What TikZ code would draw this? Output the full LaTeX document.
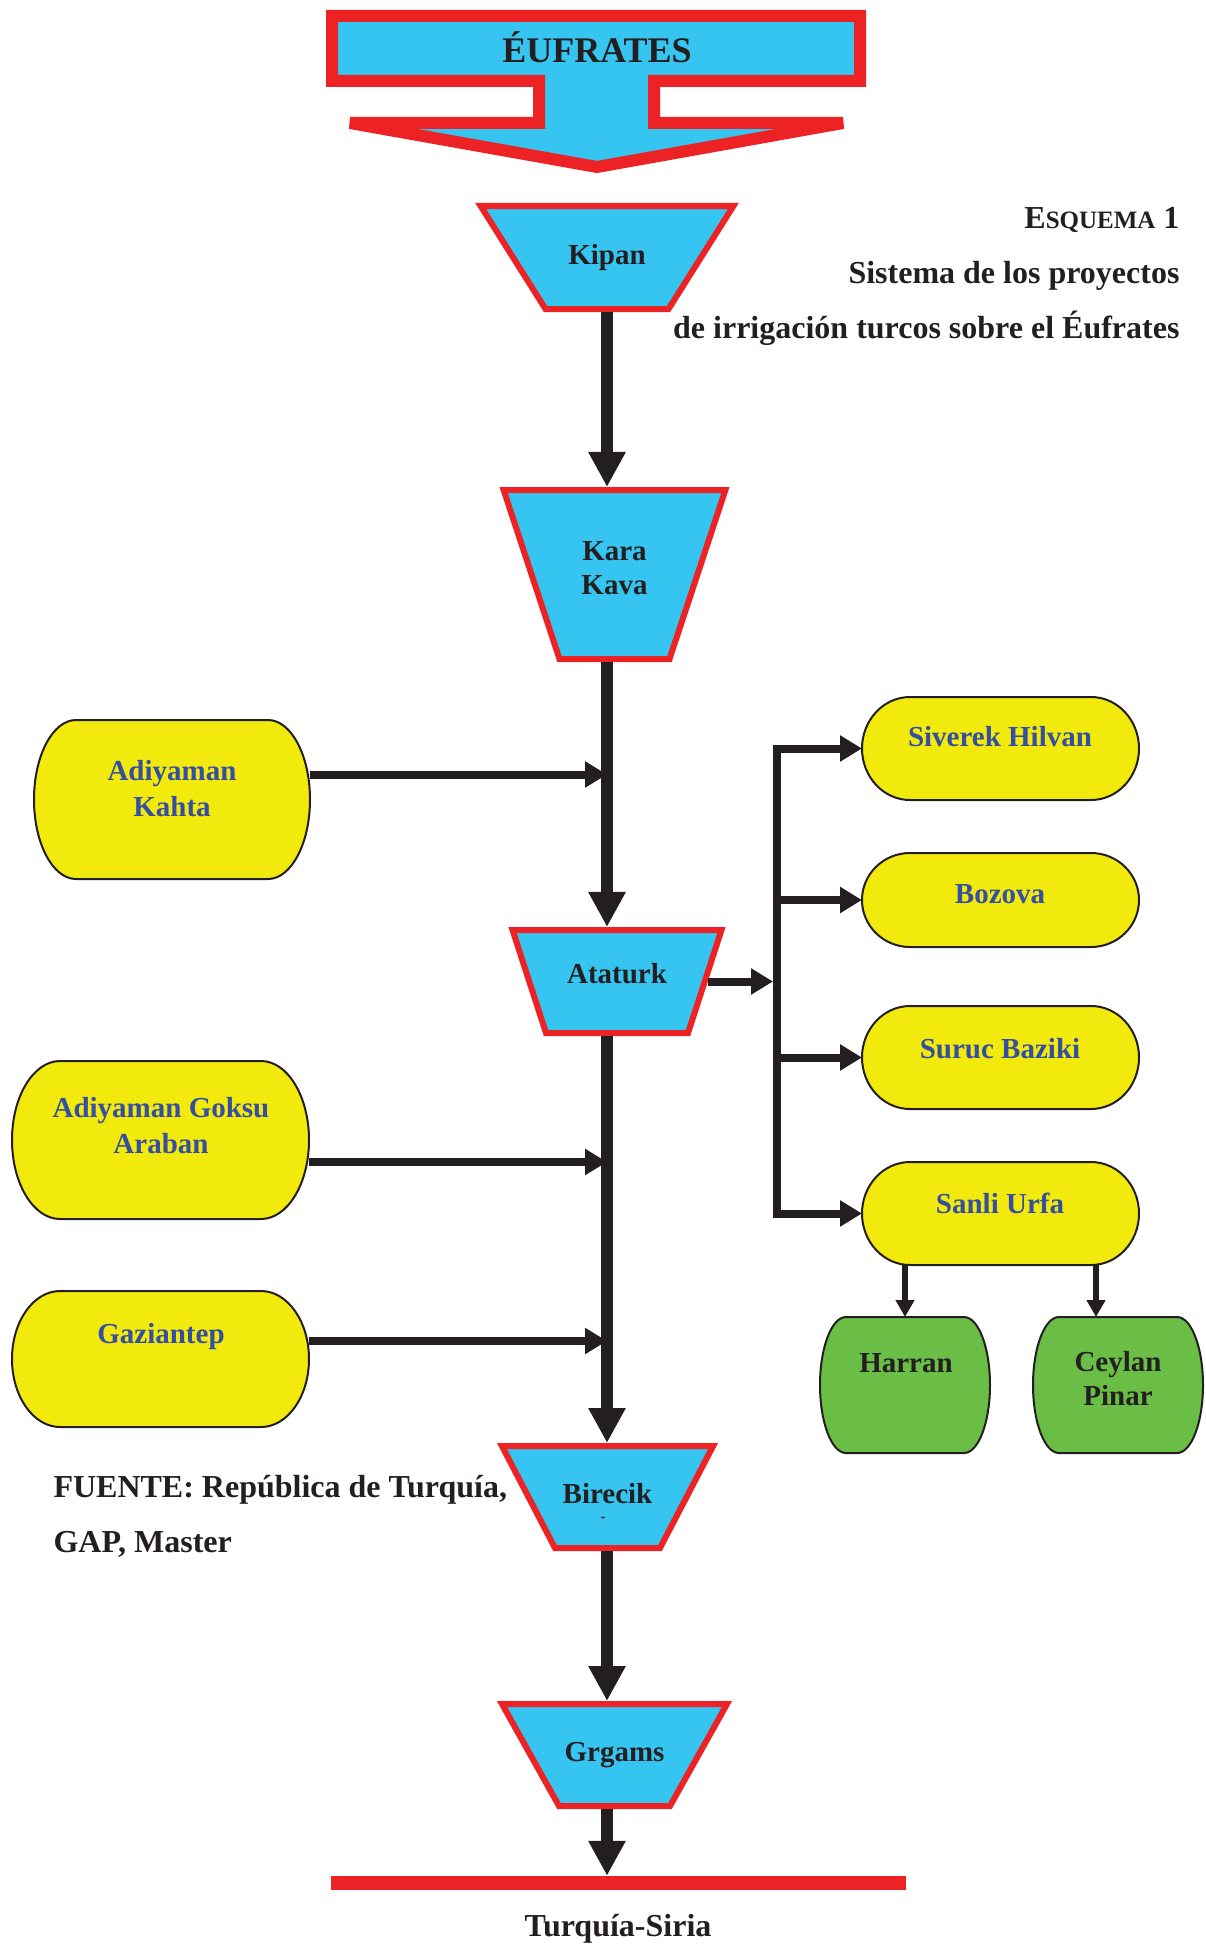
\documentclass[tikz,border=0pt]{standalone}
\usepackage{fontspec}
\setmainfont{Liberation Serif}
\usetikzlibrary{shapes.geometric,arrows.meta,calc}

\definecolor{damblue}{RGB}{54,197,241}
\definecolor{damred}{RGB}{237,34,36}
\definecolor{pillyellow}{RGB}{242,234,13}
\definecolor{pillgreen}{RGB}{106,189,69}
\definecolor{labelblue}{RGB}{52,78,162}
\definecolor{ink}{RGB}{35,31,32}

\tikzset{
  dam/.style={trapezium, shape border rotate=180, minimum size=0pt,
    draw=damred, fill=damblue, line width=6pt, text=ink, align=center,
    inner sep=0pt, font=\bfseries\fontsize{29}{34}\selectfont},
  pill/.style={rectangle, inner sep=0pt, outer sep=0pt},
  pillline/.style={draw=ink, line width=2pt},
  pilltext/.style={text=labelblue, align=center, font=\bfseries\fontsize{29}{36}\selectfont},
  greentext/.style={text=ink, align=center, font=\bfseries\fontsize{29}{34}\selectfont},
  titletext/.style={text=ink, font=\bfseries\fontsize{32}{38}\selectfont},
  mainarrow/.style={draw=ink, line width=12pt, -{Triangle[width=35pt,length=35pt]}},
  sidearrow/.style={draw=ink, line width=8pt, -{Triangle[width=25pt,length=22pt]}},
  smallarrow/.style={draw=ink, line width=6pt, -{Triangle[width=18pt,length=17pt]}}
}

\begin{document}
\begin{tikzpicture}[x=1pt,y=-1pt]
  \useasboundingbox (0,0) rectangle (1205,1945);

  % river banner
  \draw[draw=damred, fill=damblue, line width=12pt]
    (332,16) -- (860,16) -- (860,81) -- (654,81) -- (654,123) -- (843,123)
    -- (597,167) -- (350,123) -- (539,123) -- (539,81) -- (332,81) -- cycle;
  \node[text=ink, font=\bfseries\fontsize{36}{40}\selectfont, anchor=base] (eufrates) at (597,63) {ÉUFRATES};

  % title
  \node[titletext, anchor=base east] (esquema) at (1183,228) {E{\fontsize{25}{30}\selectfont SQUEMA} 1};
  \node[titletext, anchor=base east] (sistema) at (1183,283) {Sistema de los proyectos};
  \node[titletext, anchor=base east] (irrigacion) at (1183,338) {de irrigación turcos sobre el Éufrates};

  % dams
  \node[dam, text width=123pt, text height=58pt, text depth=45pt, trapezium angle=57.8] (kipan) at (607,257.5) {Kipan};
  \node[dam, text width=110pt, text height=70pt, text depth=99pt, trapezium angle=71.7] (kara) at (614.5,574.5) {Kara\\Kava};
  \node[dam, text width=142pt, text height=53pt, text depth=50pt, trapezium angle=72] (ataturk) at (617,981.5) {Ataturk};
  \node[dam, text width=105pt, text height=57pt, text depth=45pt, trapezium angle=62.5] (birecik) at (607.5,1497) {Birecik};
  \node[dam, text width=111pt, text height=57pt, text depth=45pt, trapezium angle=60.8] (grgams) at (614.5,1755) {Grgams};
  \node[text=ink, font=\bfseries\fontsize{15}{16}\selectfont] (birecikdash) at (603,1519) {-};

  % irrigation projects
  \node[pill, minimum width=276pt, minimum height=159pt] (kahta) at (172,799.5) {};
  \node[pill, minimum width=297pt, minimum height=158pt] (goksu) at (160.5,1140) {};
  \node[pill, minimum width=297pt, minimum height=136pt] (gazi) at (160.5,1359) {};
  \node[pill, minimum width=277pt, minimum height=103pt] (siverek) at (1000.5,748.5) {};
  \node[pill, minimum width=277pt, minimum height=94pt] (bozova) at (1000.5,900) {};
  \node[pill, minimum width=277pt, minimum height=103pt] (suruc) at (1000.5,1057.5) {};
  \node[pill, minimum width=277pt, minimum height=103pt] (sanli) at (1000.5,1213.5) {};
  \node[pill, minimum width=170pt, minimum height=136pt] (harran) at (905,1385) {};
  \node[pill, minimum width=170pt, minimum height=136pt] (ceylan) at (1118,1385) {};

  \foreach \b/\r/\c in {kahta/42pt/pillyellow, goksu/48pt/pillyellow, gazi/48pt/pillyellow,
      siverek/48pt/pillyellow, bozova/48pt/pillyellow, suruc/48pt/pillyellow,
      sanli/48pt/pillyellow, harran/26pt/pillgreen, ceylan/26pt/pillgreen}
    \draw[pillline, fill=\c] let \p1=(\b.north west), \p2=(\b.south east) in
      (\x1+\r,\y1) -- (\x2-\r,\y1)
      arc[start angle=90, end angle=-90, x radius=\r, y radius={0.5*(\y1-\y2)}]
      -- (\x1+\r,\y2)
      arc[start angle=270, end angle=90, x radius=\r, y radius={0.5*(\y1-\y2)}]
      -- cycle;

  \node[pilltext] (kahtatext) at (172,789) {Adiyaman\\Kahta};
  \node[pilltext] (goksutext) at (161,1126) {Adiyaman Goksu\\Araban};
  \node[pilltext] (gazitext) at (161,1337) {Gaziantep};
  \node[pilltext] (siverektext) at (1000,737) {Siverek Hilvan};
  \node[pilltext] (bozovatext) at (1000,894) {Bozova};
  \node[pilltext] (suructext) at (1000,1049) {Suruc Baziki};
  \node[pilltext] (sanlitext) at (1000,1203) {Sanli Urfa};
  \node[greentext] (harrantext) at (906,1363) {Harran};
  \node[greentext] (ceylantext) at (1118,1379) {Ceylan\\Pinar};

  % source and border
  \node[titletext, anchor=base west] (fuente) at (50,1497) {FUENTE: República de Turquía,};
  \node[titletext, anchor=base west] (gap) at (50,1552) {GAP, Master};
  \node[fill=damred, minimum width=575pt, minimum height=14pt, inner sep=0pt] (border) at (618.5,1883) {};
  \node[titletext, anchor=base] (siria) at (618,1936) {Turquía-Siria};

  % main course
  \draw[mainarrow] (kipan.south) -- (kara.north -| kipan.south);
  \draw[mainarrow] (kara.south -| kipan.south) -- (ataturk.north -| kipan.south);
  \draw[mainarrow] (ataturk.south -| kipan.south) -- (birecik.north -| kipan.south);
  \draw[mainarrow] (birecik.south -| kipan.south) -- (grgams.north -| kipan.south);
  \draw[mainarrow] (grgams.south -| kipan.south) -- (border.north -| kipan.south);

  % inflows
  \draw[sidearrow] ([yshift=25pt]kahta.east) -- ([yshift=25pt]kahta.east -| kipan.south);
  \draw[sidearrow] ([yshift=-22pt]goksu.east) -- ([yshift=-22pt]goksu.east -| kipan.south);
  \draw[sidearrow] ([yshift=18pt]gazi.east) -- ([yshift=18pt]gazi.east -| kipan.south);

  % outflows from Ataturk
  \coordinate (fork) at (777,1213.5);
  \coordinate (ceylanin) at ($(ceylan.north)+(-22,0)$);
  \draw[sidearrow] (ataturk.east) -- ([xshift=-4pt]ataturk.east -| fork);
  \draw[sidearrow] (fork) |- (siverek.west);
  \draw[sidearrow] (bozova.west -| fork) -- (bozova.west);
  \draw[sidearrow] (suruc.west -| fork) -- (suruc.west);
  \draw[sidearrow] ([xshift=-4pt]fork) -- (sanli.west);
  \draw[smallarrow] (sanli.south -| harran.north) -- (harran.north);
  \draw[smallarrow] (ceylanin |- sanli.south) -- (ceylanin);
\end{tikzpicture}
\end{document}
